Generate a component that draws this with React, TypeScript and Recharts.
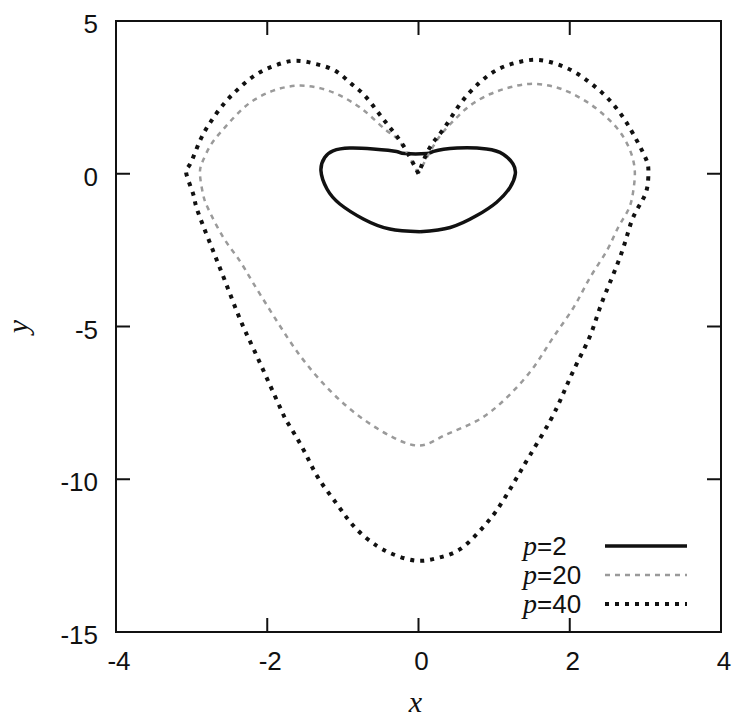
import React from 'react';
import {
  ComposedChart,
  Line,
  XAxis,
  YAxis,
  ReferenceArea,
  ReferenceLine,
  Legend,
  Label
} from 'recharts';

// axis ticks
const xTicks = [-4, -2, 0, 2, 4];
const yTicks = [5, 0, -5, -10, -15];

// p = 2 : closed kidney-shaped loop (starts at the bottom so the seam is smooth)
const curveP2: [number, number][] = [
  [0.02, -1.9], [-0.38, -1.81], [-0.73, -1.48], [-1.04, -0.99], [-1.21, -0.5],
  [-1.29, 0.1], [-1.24, 0.53], [-1.13, 0.75], [-0.91, 0.84], [-0.6, 0.81],
  [-0.29, 0.73], [-0.18, 0.66], [0.11, 0.66], [0.2, 0.73], [0.51, 0.84],
  [0.9, 0.81], [1.12, 0.64], [1.25, 0.32], [1.28, -0.01], [1.21, -0.45],
  [1.03, -0.94], [0.77, -1.37], [0.42, -1.76], [0.02, -1.9]
];

// p = 20 : heart, starts and ends at the cusp
const curveP20: [number, number][] = [
  [0, 0], [-0.24, 1.02], [-0.42, 1.41], [-0.64, 1.9], [-0.84, 2.28],
  [-1.08, 2.61], [-1.35, 2.83], [-1.63, 2.88], [-1.92, 2.72], [-2.19, 2.39],
  [-2.4, 1.95], [-2.58, 1.46], [-2.74, 0.97], [-2.85, 0.43], [-2.89, 0.0],
  [-2.85, -0.66], [-2.78, -1.15], [-2.58, -2.09], [-2.38, -2.79], [-2.19, -3.56],
  [-1.96, -4.48], [-1.72, -5.41], [-1.48, -6.23], [-1.17, -7.1], [-0.82, -7.87],
  [-0.42, -8.52], [0.0, -8.9], [0.33, -8.58], [0.77, -8.09], [1.17, -7.32],
  [1.52, -6.34], [1.78, -5.36], [2.05, -4.38], [2.27, -3.39], [2.49, -2.52],
  [2.64, -1.76], [2.78, -1.15], [2.84, -0.56], [2.86, 0.1], [2.8, 0.75],
  [2.67, 1.35], [2.49, 1.84], [2.27, 2.28], [2.0, 2.66], [1.74, 2.88],
  [1.47, 2.94], [1.21, 2.83], [0.95, 2.61], [0.68, 2.23], [0.46, 1.73],
  [0.24, 1.08], [0, 0]
];

// p = 40 : larger heart through the same cusp
const curveP40: [number, number][] = [
  [0, 0], [-0.2, 0.92], [-0.38, 1.52], [-0.55, 2.06], [-0.73, 2.61],
  [-0.91, 2.99], [-1.1, 3.37], [-1.35, 3.59], [-1.63, 3.7], [-1.9, 3.54],
  [-2.14, 3.26], [-2.36, 2.83], [-2.56, 2.33], [-2.74, 1.73], [-2.89, 1.08],
  [-3.02, 0.32], [-3.07, 0.0], [-2.98, -0.66], [-2.93, -1.15], [-2.76, -2.25],
  [-2.56, -3.5], [-2.36, -4.76], [-2.18, -5.74], [-1.96, -6.94], [-1.79, -7.87],
  [-1.72, -8.19], [-1.52, -9.04], [-1.33, -9.94], [-1.08, -10.81], [-0.84, -11.58],
  [-0.55, -12.18], [-0.29, -12.5], [0.0, -12.67], [0.28, -12.56], [0.55, -12.29],
  [0.81, -11.69], [1.03, -11.03], [1.25, -10.16], [1.47, -9.23], [1.74, -8.09],
  [1.92, -7.16], [2.09, -6.23], [2.27, -5.3], [2.4, -4.38], [2.56, -3.39],
  [2.71, -2.41], [2.82, -1.54], [2.93, -1.0], [3.02, -0.5], [3.04, 0.1],
  [3.0, 0.53], [2.84, 1.3], [2.69, 1.9], [2.51, 2.45], [2.29, 2.94],
  [2.07, 3.32], [1.83, 3.59], [1.56, 3.73], [1.3, 3.64], [1.06, 3.43],
  [0.81, 2.99], [0.55, 2.28], [0.33, 1.46], [0.15, 0.86], [0, 0]
];

const series = [
  { p: 2, points: curveP2, stroke: '#111', width: 3.5, dash: undefined },
  { p: 20, points: curveP20, stroke: '#9a9a9a', width: 2.5, dash: '5 5' },
  { p: 40, points: curveP40, stroke: '#111', width: 4, dash: '4 6' }
];

const toRows = (pts: [number, number][]) => pts.map(([x, y]) => ({ x, y }));

const W = 738;
const H = 718;
const MARGIN = { top: 21, right: 17, bottom: 0, left: 0 };
const Y_AXIS_W = 116;
const X_AXIS_H = 86;
const PLOT_W = W - MARGIN.left - MARGIN.right - Y_AXIS_W;
const PLOT_H = H - MARGIN.top - MARGIN.bottom - X_AXIS_H;

const X_MIN = -4, X_MAX = 4, Y_MIN = -15, Y_MAX = 5;
const TICK_PX = 14;
const tickDx = (TICK_PX / PLOT_W) * (X_MAX - X_MIN);
const tickDy = (TICK_PX / PLOT_H) * (Y_MAX - Y_MIN);

const SANS = '"Liberation Sans", Arial, Helvetica, sans-serif';
const SERIF = '"Liberation Serif", "Times New Roman", serif';
const INK = '#111';

const XTick = ({ x, y, payload }: any) => (
  <text x={x + 3} y={y} dy="0.71em" textAnchor="middle" fill={INK} fontSize={26} fontFamily={SANS}>
    {payload.value}
  </text>
);

const YTick = ({ x, y, payload }: any) => (
  <text x={x} y={y + 3} textAnchor="end" dominantBaseline="central" fill={INK} fontSize={26} fontFamily={SANS}>
    {payload.value}
  </text>
);

const renderLegend = () => (
  <div style={{ color: INK, fontSize: 26, fontFamily: SANS, lineHeight: '24px' }}>
    {series.map((s) => (
      <div key={s.p} style={{ display: 'flex', alignItems: 'center', height: 29 }}>
        <span style={{ width: 82, whiteSpace: 'nowrap' }}>
          <i style={{ fontFamily: SERIF, fontSize: 28 }}>p</i>={s.p}
        </span>
        <svg width={84} height={10}>
          <line x1={0} x2={82} y1={5} y2={5} stroke={s.stroke} strokeWidth={s.width} strokeDasharray={s.dash} />
        </svg>
      </div>
    ))}
  </div>
);

const innerX = xTicks.filter((v) => v > X_MIN && v < X_MAX);
const innerY = yTicks.filter((v) => v > Y_MIN && v < Y_MAX);

export default function App() {
  return (
    <div style={{ position: 'absolute', left: 0, top: 0, background: '#fff' }}>
      <ComposedChart width={W} height={H} margin={MARGIN}>
        <XAxis
          type="number"
          dataKey="x"
          domain={[X_MIN, X_MAX]}
          ticks={xTicks}
          allowDataOverflow
          height={X_AXIS_H}
          axisLine={false}
          tickLine={false}
          tickSize={0}
          tickMargin={20}
          tick={<XTick />}
          interval={0}
        >
          <Label
            content={({ viewBox }: any) => (
              <text
                x={viewBox.x + viewBox.width / 2 - 3}
                y={viewBox.y + 80}
                textAnchor="middle"
                fill={INK}
                fontSize={30}
                fontStyle="italic"
                fontFamily={SERIF}
              >
                x
              </text>
            )}
          />
        </XAxis>
        <YAxis
          type="number"
          dataKey="y"
          domain={[Y_MIN, Y_MAX]}
          ticks={yTicks}
          allowDataOverflow
          width={Y_AXIS_W}
          axisLine={false}
          tickLine={false}
          tickSize={0}
          tickMargin={18}
          tick={<YTick />}
          interval={0}
        >
          <Label
            content={({ viewBox }: any) => {
              const cx = viewBox.x + 17;
              const cy = viewBox.y + viewBox.height / 2;
              return (
                <text
                  x={cx}
                  y={cy}
                  transform={`rotate(-90 ${cx} ${cy})`}
                  textAnchor="middle"
                  dominantBaseline="central"
                  fill={INK}
                  fontSize={30}
                  fontStyle="italic"
                  fontFamily={SERIF}
                >
                  y
                </text>
              );
            }}
          />
        </YAxis>

        {/* frame */}
        <ReferenceArea x1={X_MIN} x2={X_MAX} y1={Y_MIN} y2={Y_MAX} fill="none" stroke={INK} strokeWidth={2} />

        {/* inward tick marks on all four sides */}
        {innerX.map((v) => (
          <ReferenceLine key={`xb${v}`} segment={[{ x: v, y: Y_MIN }, { x: v, y: Y_MIN + tickDy }]} stroke={INK} strokeWidth={2} />
        ))}
        {innerX.map((v) => (
          <ReferenceLine key={`xt${v}`} segment={[{ x: v, y: Y_MAX }, { x: v, y: Y_MAX - tickDy }]} stroke={INK} strokeWidth={2} />
        ))}
        {innerY.map((v) => (
          <ReferenceLine key={`yl${v}`} segment={[{ x: X_MIN, y: v }, { x: X_MIN + tickDx, y: v }]} stroke={INK} strokeWidth={2} />
        ))}
        {innerY.map((v) => (
          <ReferenceLine key={`yr${v}`} segment={[{ x: X_MAX, y: v }, { x: X_MAX - tickDx, y: v }]} stroke={INK} strokeWidth={2} />
        ))}

        {series.map((s) => (
          <Line
            key={s.p}
            data={toRows(s.points)}
            dataKey="y"
            name={`p=${s.p}`}
            type="natural"
            stroke={s.stroke}
            strokeWidth={s.width}
            strokeDasharray={s.dash}
            strokeLinejoin="round"
            dot={false}
            activeDot={false}
            isAnimationActive={false}
          />
        ))}

        <Legend
          layout="vertical"
          align="center"
          verticalAlign="middle"
          content={renderLegend}
          wrapperStyle={{ left: 523, top: 531, width: 200, height: 90 }}
        />
      </ComposedChart>
    </div>
  );
}
